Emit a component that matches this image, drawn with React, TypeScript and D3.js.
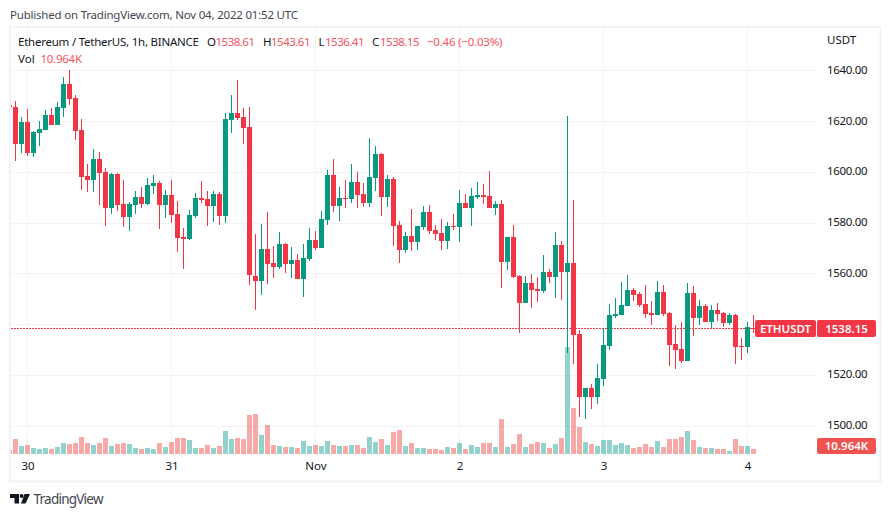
import React, { useEffect, useRef } from 'react';
import * as d3 from 'd3';

// hourly candles, first one is cut off by the left edge of the pane
const firstCandle = '2022-10-29T21:00:00Z';

const opens = [
  1626.3, 1625.5, 1611.1, 1619.6, 1607.5, 1615.3, 1616.5, 1622.4, 1618.4, 1625.1, 1634.6,
  1629.1, 1616.5, 1598.3, 1596.8, 1605.0, 1599.9, 1585.7, 1599.1, 1587.3, 1582.2,
  1586.9, 1590.1, 1587.3, 1594.4, 1595.6, 1586.9, 1590.9, 1583.4, 1574.3, 1573.5,
  1582.6, 1589.7, 1589.3, 1586.5, 1591.3, 1582.6, 1620.4, 1623.2, 1621.6, 1617.7,
  1558.9, 1557.0, 1569.6, 1564.1, 1562.5, 1571.5, 1563.7, 1565.2, 1557.8, 1565.6,
  1573.1, 1570.0, 1581.0, 1598.7, 1586.5, 1589.7, 1589.3, 1596.0, 1591.3, 1587.7,
  1597.6, 1607.0, 1590.1, 1597.2, 1579.0, 1569.2, 1574.7, 1572.3, 1578.2, 1584.2,
  1577.1, 1575.9, 1572.7, 1578.6, 1578.2, 1587.7, 1585.7, 1590.1, 1590.9, 1590.5,
  1585.7, 1587.3, 1564.5, 1574.3, 1558.9, 1548.3, 1556.2, 1553.8, 1553.0, 1560.5,
  1558.5, 1571.2, 1560.5, 1564.1, 1536.1, 1511.3, 1514.8, 1511.3, 1518.3, 1531.4,
  1543.2, 1543.6, 1547.1, 1553.4, 1551.8, 1547.9, 1544.4, 1543.6, 1552.6, 1544.4,
  1532.1, 1530.2, 1525.4, 1552.2, 1542.4, 1547.1, 1540.8, 1545.5, 1544.4, 1540.4,
  1543.6, 1531.4, 1531.0, 1538.61,
];

const closes = [
  1625.4, 1611.1, 1619.6, 1607.5, 1615.7, 1616.9, 1622.4, 1618.4, 1625.5, 1634.6, 1628.7,
  1616.1, 1598.0, 1596.8, 1605.0, 1599.5, 1585.7, 1599.1, 1586.9, 1582.2, 1587.3,
  1590.1, 1587.3, 1594.8, 1595.6, 1586.9, 1590.9, 1583.0, 1573.9, 1573.5, 1583.0,
  1589.7, 1588.9, 1586.5, 1591.3, 1582.6, 1620.8, 1623.2, 1621.2, 1617.3, 1559.3,
  1557.0, 1569.6, 1563.7, 1562.5, 1571.5, 1563.7, 1565.2, 1557.8, 1566.0, 1573.1,
  1570.0, 1581.4, 1598.7, 1586.5, 1589.7, 1589.3, 1596.0, 1590.9, 1587.7, 1598.0,
  1607.0, 1590.1, 1597.2, 1578.6, 1569.2, 1574.7, 1572.3, 1578.6, 1584.2, 1576.7,
  1575.5, 1572.7, 1578.6, 1578.2, 1587.7, 1585.7, 1590.5, 1590.9, 1590.1, 1585.7,
  1587.3, 1564.5, 1574.3, 1558.5, 1548.3, 1556.2, 1553.4, 1553.0, 1560.5, 1558.5,
  1571.2, 1560.5, 1564.1, 1535.7, 1511.3, 1514.8, 1511.3, 1518.7, 1531.7, 1543.6,
  1544.0, 1547.5, 1553.4, 1551.5, 1547.5, 1544.0, 1543.6, 1552.6, 1544.0, 1531.7,
  1529.8, 1525.4, 1552.2, 1542.4, 1547.1, 1540.8, 1545.5, 1544.0, 1540.4, 1543.6,
  1531.0, 1531.0, 1538.8, 1538.15,
];

const highs = [
  1627.0, 1627.9, 1621.6, 1624.7, 1616.1, 1620.0, 1624.4, 1625.1, 1627.5, 1637.4, 1640.1,
  1630.3, 1620.8, 1603.1, 1609.0, 1607.8, 1601.5, 1599.5, 1599.5, 1596.8, 1588.1,
  1592.4, 1594.0, 1597.6, 1598.7, 1596.4, 1592.8, 1596.8, 1588.5, 1577.9, 1585.0,
  1591.6, 1596.4, 1592.4, 1592.4, 1592.0, 1623.2, 1630.3, 1636.2, 1625.1, 1625.5,
  1575.5, 1579.4, 1584.2, 1570.8, 1576.3, 1571.9, 1570.4, 1567.6, 1571.5, 1577.9,
  1576.7, 1584.6, 1600.7, 1605.0, 1594.0, 1596.8, 1603.1, 1599.9, 1595.6, 1613.3,
  1610.2, 1607.4, 1598.7, 1598.0, 1580.6, 1576.3, 1585.3, 1578.6, 1586.5, 1586.9,
  1579.0, 1581.4, 1580.2, 1583.4, 1592.8, 1591.3, 1593.6, 1596.0, 1595.2, 1600.3,
  1588.5, 1588.9, 1574.3, 1579.0, 1559.3, 1558.9, 1559.7, 1558.5, 1567.2, 1561.7,
  1576.3, 1572.7, 1622.0, 1588.9, 1537.7, 1514.8, 1516.4, 1524.3, 1538.4, 1547.9,
  1550.3, 1556.6, 1559.3, 1554.2, 1552.6, 1555.4, 1549.1, 1557.0, 1555.4, 1544.8,
  1539.6, 1540.8, 1556.2, 1555.0, 1549.5, 1547.9, 1547.5, 1548.3, 1544.8, 1544.4,
  1544.0, 1534.5, 1540.8, 1543.61,
];

const lows = [
  1625.0, 1604.4, 1607.5, 1606.4, 1606.0, 1610.3, 1616.5, 1618.4, 1618.4, 1621.6, 1626.3,
  1612.5, 1592.8, 1592.0, 1592.0, 1586.9, 1578.6, 1583.4, 1584.5, 1578.2, 1576.7,
  1583.4, 1585.7, 1586.9, 1591.3, 1577.5, 1581.8, 1579.8, 1568.4, 1561.7, 1573.1,
  1581.8, 1587.7, 1578.6, 1580.2, 1579.0, 1579.8, 1615.3, 1620.4, 1611.0, 1555.4,
  1545.5, 1551.5, 1555.8, 1558.2, 1561.7, 1560.1, 1558.2, 1557.8, 1550.7, 1564.8,
  1569.2, 1570.0, 1579.0, 1584.2, 1580.6, 1585.7, 1587.7, 1585.7, 1586.1, 1586.1,
  1592.4, 1582.6, 1586.1, 1570.8, 1564.1, 1568.0, 1568.8, 1569.2, 1577.1, 1575.5,
  1573.1, 1569.2, 1569.6, 1577.1, 1572.3, 1585.7, 1578.6, 1589.3, 1587.3, 1585.7,
  1583.0, 1554.2, 1561.3, 1558.1, 1536.5, 1548.3, 1546.3, 1548.7, 1552.2, 1556.2,
  1550.3, 1549.5, 1528.6, 1524.3, 1503.4, 1502.6, 1506.5, 1508.5, 1515.6, 1529.8,
  1542.4, 1543.6, 1547.1, 1549.1, 1546.7, 1542.4, 1539.6, 1543.6, 1543.2, 1523.5,
  1522.3, 1524.7, 1525.4, 1535.3, 1539.6, 1540.8, 1538.4, 1541.2, 1538.8, 1539.6,
  1524.3, 1525.8, 1528.6, 1536.41,
];

// volume in thousands of ETH
const volumes = [
  8.8, 32.9, 17.5, 19.7, 13.1, 11, 13.1, 11, 15.3, 24.1, 21.9,
  24.1, 37.2, 24.1, 19.7, 24.1, 35, 17.5, 21.9, 24.1, 21.9,
  13.1, 11, 13.1, 11, 24.1, 15.3, 26.3, 35, 35, 30.7,
  13.1, 13.1, 19.7, 13.1, 17.5, 50.4, 32.9, 35, 32.9, 85.4,
  87.6, 41.6, 63.5, 19.7, 17.5, 15.3, 15.3, 13.1, 28.5, 17.5,
  19.7, 17.5, 28.5, 19.7, 17.5, 17.5, 19.7, 19.7, 13.1, 37.2,
  26.3, 32.9, 19.7, 48.2, 52.6, 17.5, 24.1, 13.1, 13.1, 11,
  11, 8.8, 15.3, 13.1, 24.1, 11, 19.7, 15.3, 24.1, 24.1,
  15.3, 76.7, 15.3, 21.9, 43.8, 15.3, 21.9, 26.3, 24.1, 13.1,
  21.9, 35, 234.3, 100.7, 59.1, 26.3, 21.9, 17.5, 30.7, 30.7,
  19.7, 24.1, 19.7, 13.1, 15.3, 21.9, 15.3, 28.5, 15.3, 32.9,
  32.9, 37.2, 50.4, 30.7, 15.3, 13.1, 13.1, 11, 11, 6.6,
  32.9, 17.5, 17.5, 10.964,
];

const priceTicks = [1640, 1620, 1600, 1580, 1560, 1540, 1520, 1500];
const dayTicks = ['2022-10-30', '2022-10-31', '2022-11-01', '2022-11-02', '2022-11-03', '2022-11-04'];
const dayLabels = ['30', '31', 'Nov', '2', '3', '4'];

const lastPrice = 1538.15;
const lastVolumeLabel = '10.964K';
const symbol = 'ETHUSDT';

const legendParts = [
  { text: 'Ethereum / TetherUS, 1h, BINANCE', x: 18, w: 181, red: false },
  { text: 'O', x: 207, w: 8, red: false },
  { text: '1538.61', x: 215.5, w: 39.5, red: true },
  { text: 'H', x: 263, w: 8, red: false },
  { text: '1543.61', x: 271, w: 39.5, red: true },
  { text: 'L', x: 318.5, w: 6, red: false },
  { text: '1536.41', x: 325, w: 39.5, red: true },
  { text: 'C', x: 372, w: 7, red: false },
  { text: '1538.15', x: 380, w: 39.5, red: true },
  { text: '−0.46 (−0.03%)', x: 427, w: 75.5, red: true },
];

const RED = '#f23645';
const GREEN = '#089981';
const GRID = '#f3f3f5';
const FRAME = '#f0f3fa';
const TEXT = '#131722';
const FONT = '"Noto Sans", sans-serif';

const App: React.FC = () => {
  const ref = useRef<SVGSVGElement | null>(null);

  useEffect(() => {
    if (!ref.current) return;
    const width = 891;
    const height = 517;

    const root = d3.select(ref.current);
    root.selectAll('*').remove();
    root.attr('width', width).attr('height', height).style('font-family', FONT);

    const start = new Date(firstCandle);
    const times = opens.map((_, i) => d3.utcHour.offset(start, i));
    const days = dayTicks.map((d) => new Date(`${d}T00:00:00Z`));

    const x = d3
      .scaleUtc()
      .domain([times[0], times[times.length - 1]])
      .range([9.5, 753.5]);
    const y = d3.scaleLinear().domain([1500, 1640]).range([425.5, 70.3]);
    const v = d3.scaleLinear().domain([0, 234.3]).range([454, 347]);

    root
      .append('clipPath')
      .attr('id', 'pane')
      .append('rect')
      .attr('x', 10)
      .attr('y', 27)
      .attr('width', 806.5)
      .attr('height', 427);

    // grid
    const grid = root.append('g').attr('shape-rendering', 'crispEdges').attr('stroke', GRID);
    grid
      .selectAll('line.h')
      .data(priceTicks)
      .enter()
      .append('line')
      .attr('x1', 11)
      .attr('x2', 816.5)
      .attr('y1', (d) => Math.round(y(d)) + 0.5)
      .attr('y2', (d) => Math.round(y(d)) + 0.5);
    grid
      .selectAll('line.v')
      .data(days)
      .enter()
      .append('line')
      .attr('x1', (d) => x(d))
      .attr('x2', (d) => x(d))
      .attr('y1', 27)
      .attr('y2', 454);

    const chart = root.append('g').attr('clip-path', 'url(#pane)');

    // volume
    chart
      .selectAll('rect.vol')
      .data(volumes)
      .enter()
      .append('rect')
      .attr('shape-rendering', 'crispEdges')
      .attr('x', (_, i) => x(times[i]) - 2.5)
      .attr('width', 5)
      .attr('y', (d) => Math.round(v(d)))
      .attr('height', (d) => 454 - Math.round(v(d)))
      .attr('fill', (_, i) => (closes[i] < opens[i] ? 'rgba(239,83,80,0.5)' : 'rgba(38,166,154,0.5)'));

    // last price line
    chart
      .append('line')
      .attr('x1', 11)
      .attr('x2', 816)
      .attr('y1', Math.floor(y(lastPrice)) + 0.5)
      .attr('y2', Math.floor(y(lastPrice)) + 0.5)
      .attr('stroke', RED)
      .attr('stroke-dasharray', '2 1')
      .attr('shape-rendering', 'crispEdges');

    // candles
    const candles = chart
      .selectAll('g.candle')
      .data(opens)
      .enter()
      .append('g')
      .attr('shape-rendering', 'crispEdges')
      .attr('fill', (_, i) => (closes[i] < opens[i] ? RED : GREEN));
    candles
      .append('rect')
      .attr('x', (_, i) => x(times[i]) - 0.5)
      .attr('width', 1)
      .attr('y', (_, i) => Math.round(y(highs[i])))
      .attr('height', (_, i) => Math.round(y(lows[i])) - Math.round(y(highs[i])));
    candles
      .append('rect')
      .attr('x', (_, i) => x(times[i]) - 2.5)
      .attr('width', 5)
      .attr('y', (_, i) => Math.round(y(Math.max(opens[i], closes[i]))))
      .attr('height', (_, i) =>
        Math.max(1, Math.round(y(Math.min(opens[i], closes[i]))) - Math.round(y(Math.max(opens[i], closes[i]))))
      );

    // frame
    root
      .append('rect')
      .attr('x', 10)
      .attr('y', 27)
      .attr('width', 870.5)
      .attr('height', 454.5)
      .attr('fill', 'none')
      .attr('stroke', FRAME)
      .attr('stroke-width', 2);

    // price axis
    const priceAxis = d3
      .axisRight(y)
      .tickValues(priceTicks)
      .tickSize(0)
      .tickPadding(0)
      .tickFormat((d) => (d as number).toFixed(2));
    const yAxis = root.append('g').attr('transform', 'translate(827,-0.5)').call(priceAxis);
    yAxis.select('.domain').remove();
    yAxis
      .selectAll('text')
      .attr('fill', TEXT)
      .style('font-size', '11.5px')
      .style('font-family', FONT)
      .attr('textLength', 40.5);

    root
      .append('text')
      .text('USDT')
      .attr('x', 827)
      .attr('y', 44)
      .attr('fill', TEXT)
      .style('font-size', '11.5px');

    // time axis
    const timeAxis = d3
      .axisBottom(x)
      .tickValues(days)
      .tickSize(0)
      .tickPadding(0)
      .tickFormat((_, i) => dayLabels[i]);
    const xAxis = root.append('g').attr('transform', 'translate(0,462)').call(timeAxis);
    xAxis.select('.domain').remove();
    xAxis.selectAll('text').attr('fill', TEXT).style('font-size', '11.5px').style('font-family', FONT);

    // last value labels
    const tag = (lx: number, ly: number, w: number, h: number, color: string, label: string) => {
      root
        .append('rect')
        .attr('x', lx)
        .attr('y', ly)
        .attr('width', w)
        .attr('height', h)
        .attr('rx', 2)
        .attr('fill', color);
      root
        .append('text')
        .text(label)
        .attr('x', lx + w / 2)
        .attr('y', ly + h / 2 + 4)
        .attr('text-anchor', 'middle')
        .attr('fill', '#fff')
        .style('font-size', '11.5px')
        .style('font-weight', 600);
    };
    tag(755, 320, 61, 17, RED, symbol);
    tag(817, 320, 59, 17, RED, lastPrice.toFixed(2));
    tag(817, 438, 59, 16, '#ef5350', lastVolumeLabel);

    // legend
    root
      .selectAll('text.legend')
      .data(legendParts)
      .enter()
      .append('text')
      .text((d) => d.text)
      .attr('x', (d) => d.x)
      .attr('y', 46)
      .attr('textLength', (d) => d.w)
      .attr('fill', (d) => (d.red ? '#f7525f' : TEXT))
      .style('font-size', '11.5px');
    root.append('text').text('Vol').attr('x', 18).attr('y', 63).attr('fill', TEXT).style('font-size', '11.5px');
    root
      .append('text')
      .text(lastVolumeLabel)
      .attr('x', 40.5)
      .attr('y', 63)
      .attr('textLength', 41.5)
      .attr('fill', '#f7525f')
      .style('font-size', '11.5px');

    // header and footer
    root
      .append('text')
      .text('Published on TradingView.com, Nov 04, 2022 01:52 UTC')
      .attr('x', 10)
      .attr('y', 19)
      .attr('textLength', 288)
      .attr('fill', '#434651')
      .style('font-size', '11.5px');

    root
      .append('path')
      .attr('d', 'M10 494h9v9.5h-4.5v-5.5h-4.5z M24.5 494h5.5l-4.5 9.5h-4.5z')
      .attr('fill', '#131722');
    root.append('circle').attr('cx', 21.6).attr('cy', 496).attr('r', 2).attr('fill', '#131722');
    root
      .append('text')
      .text('TradingView')
      .attr('x', 33.5)
      .attr('y', 504)
      .attr('textLength', 70)
      .attr('fill', '#434651')
      .style('font-size', '13.5px');
  }, []);

  return <svg ref={ref} style={{ position: 'absolute', left: 0, top: 0 }}></svg>;
};

export default App;
